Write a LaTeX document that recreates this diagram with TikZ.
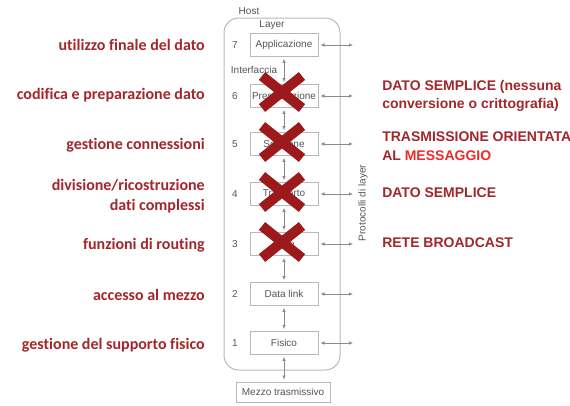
\documentclass[tikz,border=0pt]{standalone}
\usepackage{fontspec}
\setmainfont{Liberation Sans}
\newfontfamily\notefont[Ligatures=NoCommon]{Carlito}
\usetikzlibrary{arrows.meta,shapes.misc}
\newdimen\px \px=0.75pt
\definecolor{boxgray}{HTML}{B8B8B8}
\definecolor{linegray}{HTML}{8A8A8A}
\definecolor{textgray}{HTML}{555555}
\definecolor{noteRed}{HTML}{A3262A}
\definecolor{crossRed}{HTML}{9C1A1C}
\definecolor{hotRed}{HTML}{EE2B2B}
\begin{document}
\begin{tikzpicture}[x=\px, y=-\px,
  small/.style={font=\fontsize{7.5pt}{9pt}\selectfont, text=textgray, inner sep=0pt},
  layerbox/.style={small, draw=boxgray, line width=0.75pt, minimum width=51pt, minimum height=17pt},
  hostbox/.style={draw=boxgray, line width=0.75pt, rounded corners=11pt, minimum width=87pt, minimum height=264pt, inner sep=0pt},
  biarrow/.style={draw=linegray, line width=0.5pt, {Latex[length=3pt,width=2.6pt]}-{Latex[length=3pt,width=2.6pt]}, shorten <=1.5pt, shorten >=1.5pt},
  crossmark/.style={cross out, draw=crossRed, line width=7.5pt, minimum width=30pt, minimum height=24pt, inner sep=0pt, outer sep=0pt},
  leftnote/.style={font=\notefont\bfseries\fontsize{12pt}{15pt}\selectfont, text=noteRed, anchor=east, inner sep=0pt, align=right},
  rightnote/.style={font=\bfseries\fontsize{10.5pt}{14pt}\selectfont, text=noteRed, anchor=west, inner sep=0pt, align=left},
]
\useasboundingbox (0,0) rectangle (570,405);

% host container and its labels
\node[hostbox] (host) at (282,194) {};
\node[small] (hostlbl) at (249,11) {Host};
\node[small] (layerlbl) at (272,25) {Layer};
\node[small] (iflbl) at (254,70) {Interfaccia};
\node[small, rotate=90] (protlbl) at (363,203) {Protocolli di layer};

% the seven layers
\node[layerbox] (l7) at (284,45) {Applicazione};
\node[layerbox] (l6) at (284,96) {Presentazione};
\node[layerbox] (l5) at (284,144) {Sessione};
\node[layerbox] (l4) at (284,194) {Trasporto};
\node[layerbox] (l3) at (284,244) {Rete};
\node[layerbox] (l2) at (284,294) {Data link};
\node[layerbox] (l1) at (284,343) {Fisico};
\node[layerbox, minimum width=70.5pt, minimum height=15pt] (mz) at (283,392) {Mezzo trasmissivo};

% layer numbers
\node[small] (n7) at (235,45) {7};
\node[small] (n6) at (235,96) {6};
\node[small] (n5) at (235,144) {5};
\node[small] (n4) at (235,194) {4};
\node[small] (n3) at (235,244) {3};
\node[small] (n2) at (235,294) {2};
\node[small] (n1) at (235,343) {1};

% interfaces between adjacent layers
\draw[biarrow] (l7) -- (l6);
\draw[biarrow] (l6) -- (l5);
\draw[biarrow] (l5) -- (l4);
\draw[biarrow] (l4) -- (l3);
\draw[biarrow] (l3) -- (l2);
\draw[biarrow] (l2) -- (l1);
\draw[biarrow] (l1) -- (l1 |- mz.north);

% peer protocols
\foreach \k/\y in {7/45,6/96,5/144,4/194,3/244,2/294,1/343}
  \coordinate (p\k) at (355,\y);
\foreach \k in {7,6,5,4,3,2,1}
  \draw[biarrow] (l\k.east) -- (p\k);

% dropped layers
\node[crossmark] (x6) at (282,92) {};
\node[crossmark] (x5) at (282,142) {};
\node[crossmark] (x4) at (282,192) {};
\node[crossmark] (x3) at (282,242) {};

% role of each layer
\node[leftnote] (d7) at (205,45) {utilizzo finale del dato};
\node[leftnote] (d6) at (205,95) {codifica e preparazione dato};
\node[leftnote] (d5) at (205,145) {gestione connessioni};
\node[leftnote] (d4) at (205,196) {divisione/ricostruzione\\dati complessi};
\node[leftnote] (d3) at (205,245) {funzioni di routing};
\node[leftnote] (d2) at (205,295) {accesso al mezzo};
\node[leftnote] (d1) at (205,345) {gestione del supporto fisico};

% what replaces the dropped layers
\node[rightnote] (r6) at (382,96) {DATO SEMPLICE (nessuna\\conversione o crittografia)};
\node[rightnote] (r5) at (382,146) {TRASMISSIONE ORIENTATA\\AL \textcolor{hotRed}{MESSAGGIO}};
\node[rightnote] (r4) at (382,193) {DATO SEMPLICE};
\node[rightnote] (r3) at (382,243) {RETE BROADCAST};
\end{tikzpicture}
\end{document}
